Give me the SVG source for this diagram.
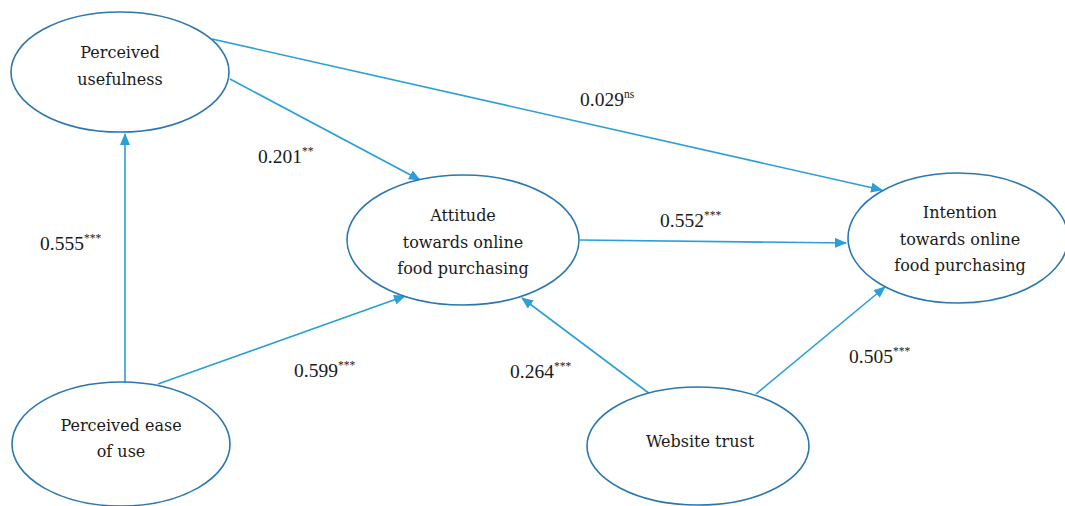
<svg xmlns="http://www.w3.org/2000/svg" width="1065" height="506" viewBox="0 0 1065 506">
<defs>
<marker id="ah" markerWidth="12" markerHeight="10" refX="11" refY="5" orient="auto" markerUnits="userSpaceOnUse">
<path d="M0,0 L12,5 L0,10 Z" fill="#2a9fd8"/>
</marker>
<style>
.node ellipse{fill:#fff;stroke:#2b77b0;stroke-width:1.6}
.node text{font-family:'DejaVu Serif',serif;font-size:16px;fill:#1a1a1a;text-anchor:middle}
.lbl{font-family:'Liberation Serif','DejaVu Serif',serif;font-size:19.5px;fill:#1a1a1a}
.sup{font-size:11.5px}
#connectors line{stroke:#2a9fd8;stroke-width:1.6;marker-end:url(#ah)}
</style>
</defs>
<rect width="1065" height="506" fill="#fff"/>
<g id="connectors">
<line x1="125" y1="382" x2="125" y2="134"/>
<line x1="158" y1="384" x2="405" y2="296"/>
<line x1="230" y1="79" x2="420" y2="180"/>
<line x1="212" y1="39" x2="882" y2="190"/>
<line x1="580" y1="240" x2="846" y2="243"/>
<line x1="650" y1="394" x2="522" y2="298"/>
<line x1="756" y1="394" x2="885" y2="287"/>
</g>
<g id="pu" class="node">
<ellipse cx="120" cy="72" rx="109" ry="60"/>
<text x="120" y="58">Perceived</text>
<text x="120" y="85">usefulness</text>
</g>
<g id="att" class="node">
<ellipse cx="463" cy="240" rx="116" ry="65"/>
<text x="463" y="221">Attitude</text>
<text x="463" y="248">towards online</text>
<text x="463" y="274">food purchasing</text>
</g>
<g id="int" class="node">
<ellipse cx="958" cy="238" rx="110" ry="65"/>
<text x="960" y="218">Intention</text>
<text x="960" y="245">towards online</text>
<text x="960" y="271">food purchasing</text>
</g>
<g id="peou" class="node">
<ellipse cx="121" cy="444" rx="109" ry="62"/>
<text x="121" y="431">Perceived ease</text>
<text x="121" y="457">of use</text>
</g>
<g id="wt" class="node">
<ellipse cx="698" cy="446" rx="111" ry="59"/>
<text x="700" y="447">Website trust</text>
</g>
<g id="labels">
<text class="lbl" x="258" y="163">0.201<tspan class="sup" dy="-8">**</tspan></text>
<text class="lbl" x="40" y="250">0.555<tspan class="sup" dy="-8">***</tspan></text>
<text class="lbl" x="580" y="106">0.029<tspan class="sup" dy="-8">ns</tspan></text>
<text class="lbl" x="660" y="227">0.552<tspan class="sup" dy="-8">***</tspan></text>
<text class="lbl" x="294" y="377">0.599<tspan class="sup" dy="-8">***</tspan></text>
<text class="lbl" x="510" y="378">0.264<tspan class="sup" dy="-8">***</tspan></text>
<text class="lbl" x="849" y="363">0.505<tspan class="sup" dy="-8">***</tspan></text>
</g>
</svg>
